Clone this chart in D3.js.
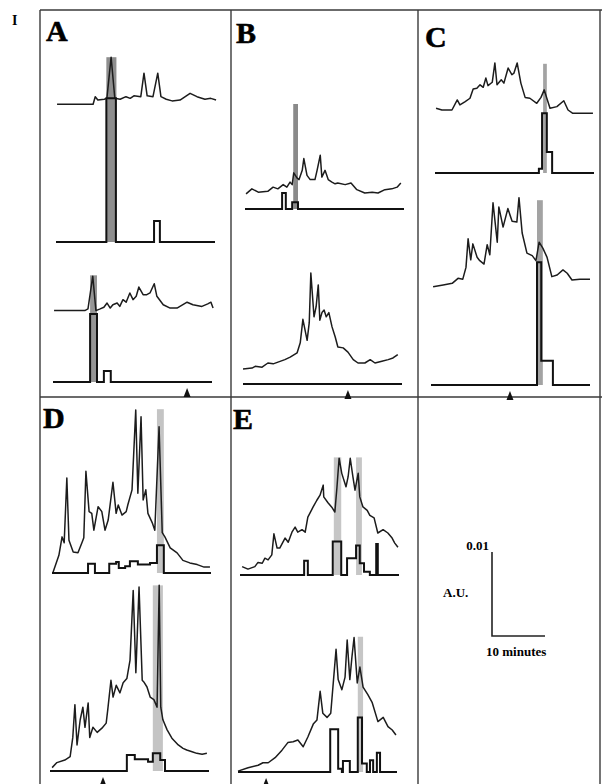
<!DOCTYPE html>
<html>
<head>
<meta charset="utf-8">
<script src="https://cdn.jsdelivr.net/npm/d3@7"></script>
<style>
body { margin: 0; background: #fff; }
</style>
</head>
<body>
<div id="fig"></div>
<script>
// all traces: time in minutes, signal in mAU (0.001 A.U.)
// continuous absorbance traces [t, value]
var traceA1 = [[0.2,16.4],[7.0,16.4],[7.4,17.3],[7.9,16.9],[9.1,17.0],[9.6,17.1],[10.4,22.0],[11.1,17.1],[12.1,17.0],[13.2,17.3],[14.0,17.1],[14.7,17.4],[16.0,17.3],[16.6,20.1],[17.2,17.4],[18.3,17.3],[19.2,20.1],[19.8,17.3],[20.8,17.0],[21.9,16.8],[23.4,16.9],[25.3,17.7],[26.6,17.3],[28.1,17.0],[29.2,17.1],[30.2,16.9]];
var traceA2 = [[0.2,8.5],[6.0,8.5],[6.6,8.7],[7.5,12.6],[8.1,8.5],[8.9,8.7],[9.6,8.9],[10.2,9.4],[10.8,8.8],[11.3,9.2],[12.1,9.4],[12.6,9.0],[13.2,9.8],[13.8,9.5],[14.5,10.6],[15.1,9.8],[15.7,10.2],[16.2,11.3],[17.0,10.4],[17.7,10.4],[18.3,10.6],[19.1,11.7],[19.6,10.2],[20.8,9.2],[22.1,8.8],[23.4,8.8],[25.3,9.5],[26.4,9.2],[28.1,9.0],[29.2,9.3],[29.8,9.5],[30.2,8.8]];
var traceB1 = [[0.2,1.8],[1.3,2.4],[2.5,2.0],[4.3,2.1],[5.3,2.6],[6.2,2.4],[7.2,2.9],[7.9,2.6],[8.5,3.2],[8.9,2.9],[9.2,4.3],[9.8,3.7],[10.2,3.5],[10.8,4.6],[11.1,6.0],[11.7,4.0],[12.3,3.5],[13.2,3.5],[13.6,4.6],[14.2,6.4],[14.5,3.8],[15.1,4.6],[15.7,3.5],[16.4,3.2],[17.0,3.0],[17.5,3.1],[18.9,2.9],[20.0,3.1],[21.1,2.3],[22.6,1.9],[24.0,2.0],[25.1,1.9],[26.4,2.3],[27.7,2.4],[28.7,2.6],[29.4,3.1]];
var traceB2 = [[0,1.8],[1.7,1.9],[2.3,2.1],[3.6,2.0],[4.7,2.5],[5.7,2.4],[6.6,2.6],[7.9,2.9],[8.9,3.2],[10.2,3.7],[10.8,4.9],[11.3,7.7],[12.1,5.2],[12.5,7.3],[12.8,13.2],[13.4,8.0],[13.8,9.2],[14.2,11.8],[14.5,7.6],[14.9,8.5],[15.3,8.8],[15.7,8.0],[16.2,8.5],[16.8,6.8],[17.4,5.6],[17.9,4.4],[18.9,4.3],[19.8,3.8],[20.8,2.9],[21.7,2.5],[23.0,2.5],[24.0,2.9],[24.9,2.5],[26.2,2.7],[27.4,2.9],[28.3,3.1],[29.2,3.5]];
var traceC1 = [[0.2,7.7],[1.3,7.5],[3.2,7.5],[4.2,8.7],[4.7,8.1],[5.7,8.5],[6.6,8.9],[7.2,10.0],[7.9,10.1],[8.5,10.5],[9.1,10.2],[9.6,11.3],[10.0,10.4],[10.8,10.8],[11.3,13.1],[11.7,10.5],[12.5,11.1],[13.0,10.7],[13.8,12.5],[14.5,11.7],[14.9,11.9],[15.5,13.1],[16.2,10.7],[17.0,9.0],[17.9,8.9],[19.2,8.3],[20.0,9.0],[20.6,9.9],[21.1,8.9],[21.7,7.7],[23.0,7.9],[24.3,8.6],[25.1,7.5],[26.0,7.1],[27.9,7.1],[29.8,7.1]];
var traceC2 = [[0.4,11.7],[2.3,11.9],[4.0,12.1],[5.1,12.7],[6.0,12.6],[6.6,14.0],[7.0,17.4],[7.5,14.9],[7.9,16.8],[8.7,15.2],[9.2,14.8],[10.0,14.4],[10.6,16.7],[11.1,15.5],[11.7,21.7],[12.5,17.0],[12.8,21.2],[13.6,18.8],[14.5,21.0],[15.3,19.5],[16.2,19.4],[16.6,22.3],[17.2,18.1],[18.1,15.7],[19.1,15.4],[19.8,14.8],[20.4,17.0],[21.1,16.3],[21.9,15.2],[22.8,12.9],[23.8,13.1],[24.9,13.7],[25.7,13.3],[26.6,12.5],[28.1,12.6],[30.0,12.6]];
var traceD1 = [[0.2,0.1],[1.3,2.1],[1.9,4.3],[2.3,3.6],[2.8,11.3],[3.2,3.9],[4.0,2.5],[4.9,2.4],[5.7,3.7],[6.0,4.2],[6.4,12.1],[7.0,7.3],[7.5,7.1],[7.9,5.1],[8.7,7.9],[9.4,7.3],[10.0,5.1],[10.6,6.3],[11.5,10.8],[12.1,7.1],[12.5,8.1],[13.2,6.9],[14.0,7.3],[14.3,8.1],[15.1,9.9],[15.8,19.4],[16.2,9.5],[16.8,18.6],[17.2,8.7],[17.7,9.9],[18.1,7.1],[18.9,6.0],[19.4,5.1],[20.2,17.4],[20.8,4.8],[21.3,4.3],[22.3,3.0],[23.6,2.4],[24.7,1.5],[26.0,1.2],[27.4,1.0],[28.7,0.7],[29.8,0.7]];
var traceD2 = [[0.4,0.4],[1.3,1.0],[2.8,1.3],[3.8,1.7],[4.3,4.0],[4.7,7.9],[5.1,3.1],[5.7,6.1],[6.2,7.6],[6.6,5.2],[7.2,8.1],[7.5,4.0],[8.1,5.2],[8.9,4.6],[9.8,5.1],[10.6,5.7],[10.9,7.3],[11.5,10.8],[11.9,8.8],[12.5,10.2],[13.2,9.3],[13.8,10.5],[14.5,11.0],[15.1,13.2],[15.7,21.5],[16.2,11.7],[16.8,21.9],[17.4,10.8],[17.7,10.6],[18.3,10.0],[18.9,8.8],[19.6,8.5],[20.2,7.6],[20.6,22.1],[20.9,7.6],[21.3,6.1],[22.1,4.9],[23.0,3.9],[24.2,3.1],[25.1,2.7],[25.8,2.5],[26.8,2.3],[27.7,2.1],[28.7,2.0],[29.6,2.1]];
var traceE1 = [[0.4,1.0],[1.5,0.7],[2.8,1.0],[3.4,1.5],[4.2,1.4],[4.7,2.0],[5.3,1.8],[6.0,2.4],[6.4,4.9],[7.0,3.2],[7.5,3.2],[8.5,4.4],[9.1,3.9],[9.8,5.1],[10.4,5.7],[10.9,5.1],[11.7,5.4],[12.3,5.1],[12.8,6.9],[13.8,8.1],[14.5,8.9],[15.1,9.5],[15.7,10.7],[15.8,9.3],[16.6,8.6],[17.4,8.0],[17.9,7.5],[18.3,10.5],[18.7,13.9],[19.2,12.1],[20.0,10.5],[20.4,11.7],[20.8,13.9],[21.3,11.7],[21.7,10.1],[22.3,12.1],[22.6,9.3],[23.2,8.1],[24.0,7.7],[24.5,7.1],[25.3,6.8],[26.0,5.0],[27.0,5.4],[27.9,5.0],[28.7,4.4],[29.2,3.8],[29.8,3.3]];
var traceE2 = [[0,0.1],[1.9,0.5],[3.8,0.8],[4.7,1.1],[5.7,1.1],[7.0,1.7],[8.3,2.6],[9.4,3.5],[10.4,3.6],[11.3,3.8],[12.3,3.0],[13.2,4.2],[14.2,5.7],[14.9,6.2],[15.5,9.6],[16.0,7.0],[16.8,6.5],[17.5,7.0],[18.5,14.6],[18.9,11.0],[19.6,9.8],[20.2,11.3],[20.6,15.7],[21.1,11.0],[21.5,13.7],[21.9,16.0],[22.5,10.6],[23.0,12.5],[23.6,10.1],[24.5,9.2],[25.3,8.3],[26.4,6.0],[27.4,6.5],[28.3,5.4],[29.1,5.0],[29.8,4.4]];

// fraction activity (step) traces [tStart, tEnd, height]
var stepsA1 = [[9.5,11.3,17.1],[18.5,19.6,2.5]];
var stepsA2 = [[7.0,8.3,8.1],[9.6,10.9,1.3]];
var stepsB1 = [[7.0,7.7,1.9],[8.9,10.0,0.8]];
var stepsB2 = [];
var stepsC1 = [[19.6,20.2,0.5],[20.2,21.1,7.1],[21.1,22.1,2.5]];
var stepsC2 = [[20.0,20.8,14.6],[20.8,23.0,2.9]];
var stepsD1 = [[6.8,8.1,1.1],[10.8,12.1,1.1],[12.1,12.6,1.3],[12.6,13.8,0.6],[13.8,14.7,0.8],[14.7,16.2,1.4],[16.2,18.5,1.0],[18.5,19.8,1.2],[19.8,21.1,3.3]];
var stepsD2 = [[14.5,16.0,1.9],[16.0,18.5,1.4],[18.5,19.4,1.1],[19.4,20.8,2.1],[20.8,21.7,1.3]];
var stepsE1 = [[12.1,12.8,1.7],[17.5,19.1,4.0],[20.2,21.9,2.0],[21.9,22.6,3.5],[22.6,23.4,1.4],[23.4,24.5,0.4],[25.7,26.0,3.7]];
var stepsE2 = [[17.4,18.9,5.1],[18.9,19.6,0.4],[19.8,21.1,1.3],[22.6,23.4,6.5],[23.4,24.3,1.0],[24.9,25.5,1.4],[26.2,26.8,2.3]];

// shaded active fractions [tStart, tEnd, top]
var bandsA1 = [[9.5,11.4,22.0]];
var bandsA2 = [[7.0,8.3,12.7]];
var bandsB1 = [[9.1,10.0,12.5]];
var bandsB2 = [];
var bandsC1 = [[20.4,21.1,13.0]];
var bandsC2 = [[20.0,21.1,22.0]];
var bandsD1 = [[19.8,21.1,19.5]];
var bandsD2 = [[19.4,21.3,22.1]];
var bandsE1 = [[17.7,19.1,14.0],[21.9,23.0,14.0]];
var bandsE2 = [[22.6,23.6,16.1]];

// injection markers (minutes)
var arrowA = 25.3, arrowB = 19.8, arrowC = 14.9, arrowD = 10.0, arrowE = 5.3;

var runLength = 30;          // minutes
var scaleBarMinutes = 10;
var scaleBarAU = 0.01;

var W = 602, H = 784;
var pxPerMin = 5.3, pxPerMAU = 8.4;

var svg = d3.select("#fig").append("svg")
    .attr("width", W)
    .attr("height", H)
    .style("font-family", "'Liberation Serif', 'DejaVu Serif', serif");

// frame
var frame = svg.append("g").attr("stroke", "#3a3a3a").attr("stroke-width", 1.4);
frame.append("line").attr("x1", 40).attr("y1", 10).attr("x2", 602).attr("y2", 10);
frame.append("line").attr("x1", 40).attr("y1", 397).attr("x2", 602).attr("y2", 397);
[40, 231, 418, 600].forEach(function(x) {
  frame.append("line").attr("x1", x).attr("y1", 10).attr("x2", x).attr("y2", H);
});

svg.append("text").attr("x", 12).attr("y", 25)
  .style("font-size", "14px").style("font-weight", "bold").text("I");

var labels = [["A", 46, 41], ["B", 236, 43], ["C", 425, 47], ["D", 43, 428], ["E", 233, 429]];
labels.forEach(function(l) {
  svg.append("text").attr("x", l[1]).attr("y", l[2])
    .style("font-size", "30px").style("font-weight", "bold")
    .attr("stroke", "#000").attr("stroke-width", 0.6)
    .text(l[0]);
});

// sub plots: origin of baseline (x0, y0)
var plots = [
  {trace: traceA1, steps: stepsA1, bands: bandsA1, x0: 56, y0: 242, band: "#8e8e8e"},
  {trace: traceA2, steps: stepsA2, bands: bandsA2, x0: 53, y0: 382, band: "#959595", arrow: arrowA},
  {trace: traceB1, steps: stepsB1, bands: bandsB1, x0: 245, y0: 209, band: "#8a8a8a"},
  {trace: traceB2, steps: stepsB2, bands: bandsB2, x0: 243, y0: 384, band: "#999", arrow: arrowB},
  {trace: traceC1, steps: stepsC1, bands: bandsC1, x0: 435, y0: 173, band: "#a3a3a3"},
  {trace: traceC2, steps: stepsC2, bands: bandsC2, x0: 431, y0: 385, band: "#a3a3a3", arrow: arrowC},
  {trace: traceD1, steps: stepsD1, bands: bandsD1, x0: 52, y0: 573, band: "#c4c4c4"},
  {trace: traceD2, steps: stepsD2, bands: bandsD2, x0: 50, y0: 771, band: "#c4c4c4", arrow: arrowD},
  {trace: traceE1, steps: stepsE1, bands: bandsE1, x0: 240, y0: 575, band: "#c6c6c6"},
  {trace: traceE2, steps: stepsE2, bands: bandsE2, x0: 238, y0: 772, band: "#c6c6c6", arrow: arrowE}
];

plots.forEach(function(p) {
  var x = d3.scaleLinear().domain([0, runLength]).range([p.x0, p.x0 + runLength * pxPerMin]);
  var y = d3.scaleLinear().domain([0, 10]).range([p.y0, p.y0 - 10 * pxPerMAU]);
  var g = svg.append("g");

  // shaded fractions
  g.selectAll("rect.band").data(p.bands).enter().append("rect")
    .attr("x", function(d) { return x(d[0]); })
    .attr("y", function(d) { return y(d[2]); })
    .attr("width", function(d) { return x(d[1]) - x(d[0]); })
    .attr("height", function(d) { return y(0) - y(d[2]); })
    .attr("fill", p.band);

  // absorbance trace
  g.append("path")
    .datum(p.trace)
    .attr("fill", "none")
    .attr("stroke", "#1c1c1c")
    .attr("stroke-width", 1.5)
    .attr("stroke-linejoin", "round")
    .attr("d", d3.line()
      .x(function(d) { return x(d[0]); })
      .y(function(d) { return y(d[1]); }));

  // step trace incl. baseline
  var pts = [[0, 0]];
  p.steps.forEach(function(s, i) {
    pts.push([s[0], s[2]]);
    var nxt = p.steps[i + 1];
    if (!nxt || nxt[0] != s[1]) pts.push([s[1], 0]);
  });
  pts.push([runLength, 0]);
  g.append("path")
    .datum(pts)
    .attr("fill", "none")
    .attr("stroke", "#111")
    .attr("stroke-width", 2)
    .attr("d", d3.line().curve(d3.curveStepAfter)
      .x(function(d) { return x(d[0]); })
      .y(function(d) { return y(d[1]); }));

  if (p.arrow != null) {
    var ax = x(p.arrow), ay = p.y0;
    g.append("path")
      .attr("d", "M" + ax + "," + (ay + 6) + "L" + (ax + 3.5) + "," + (ay + 15) + "L" + (ax - 3.5) + "," + (ay + 15) + "Z")
      .attr("fill", "#111");
  }
});

// scale bar
var sx = d3.scaleLinear().domain([0, scaleBarMinutes]).range([492, 492 + scaleBarMinutes * pxPerMin]);
var sy = d3.scaleLinear().domain([0, scaleBarAU]).range([636, 636 - scaleBarAU * 1000 * pxPerMAU]);
svg.append("path")
  .attr("d", "M" + sx(0) + "," + sy(scaleBarAU) + "L" + sx(0) + "," + sy(0) + "L" + sx(scaleBarMinutes) + "," + sy(0))
  .attr("fill", "none").attr("stroke", "#222").attr("stroke-width", 1.6);
svg.append("text").attr("x", sx(0) - 3).attr("y", sy(scaleBarAU) - 2)
  .attr("text-anchor", "end").style("font-size", "13px").style("font-weight", "bold").text("0.01");
svg.append("text").attr("x", 443).attr("y", 597)
  .style("font-size", "13px").style("font-weight", "bold").text("A.U.");
svg.append("text").attr("x", 486).attr("y", 656)
  .style("font-size", "13px").style("font-weight", "bold").text("10 minutes");
</script>
</body>
</html>
